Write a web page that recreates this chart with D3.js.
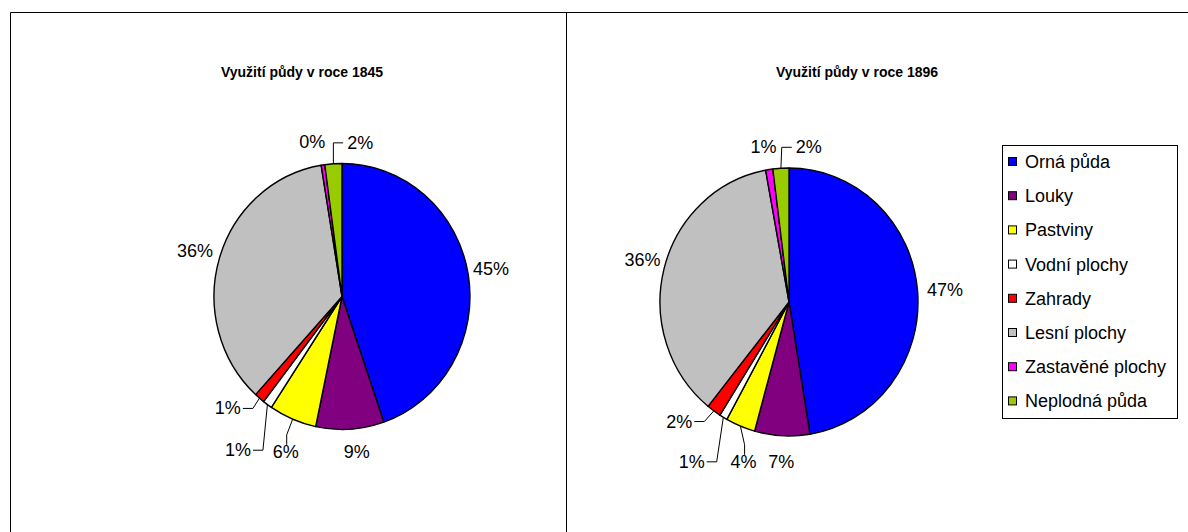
<!DOCTYPE html>
<html>
<head>
<meta charset="utf-8">
<script src="https://cdn.jsdelivr.net/npm/d3@7"></script>
<style>
  html, body { margin: 0; padding: 0; background: #fff; }
  svg { display: block; font-family: "Liberation Sans", Arial, sans-serif; }
</style>
</head>
<body>
<svg id="chart" width="1188" height="532"></svg>
<script>
// ---- data ----
const categories = ["Orná půda", "Louky", "Pastviny", "Vodní plochy", "Zahrady", "Lesní plochy", "Zastavěné plochy", "Neplodná půda"];
const values1845 = [44.7, 8.6, 6.0, 1.2, 1.3, 35.6, 0.45, 2.15];
const values1896 = [47.4, 6.9, 3.7, 1.0, 1.8, 36.3, 0.9, 2.0];
const titles = ["Využití půdy v roce 1845", "Využití půdy v roce 1896"];
const colors = ["#0000FF", "#800080", "#FFFF00", "#FFFFFF", "#FF0000", "#C0C0C0", "#FF00FF", "#99CC00"];

// ---- layout (label nudges in px, leader style per slice) ----
const layout = [
  { values: values1845, title: titles[0], cx: 342, cy: 296.5, rx: 128, ry: 133, titleX: 302, titleY: 72,
    nudges: [[5, -2], [5.5, 4.5], [0, 16], [-19, 31], [-20, -3.5], [-7, -2], [-8, -5], [28, -3]],
    leaders: [null, null, "v", "h", "h", null, null, "h"] },
  { values: values1896, title: titles[1], cx: 789, cy: 302, rx: 129, ry: 134, titleX: 857, titleY: 72,
    nudges: [[9.5, 0], [0, 8], [10, 19], [-22.5, 29], [-24, -4], [-4, -4.5], [-3, -5], [29, -3]],
    leaders: [null, null, "v", "h", "h", null, null, "h"] }
];

const svg = d3.select("#chart");

// panel frames
svg.append("path")
  .attr("d", "M10.5,532 L10.5,12.5 L1188,12.5 M566.5,12.5 L566.5,532")
  .attr("fill", "none").attr("stroke", "#000").attr("stroke-width", 1);

const pie = d3.pie().sort(null).value(d => d);

layout.forEach(cfg => {
  const total = d3.sum(cfg.values);
  const arcs = pie(cfg.values);
  const arc = d3.arc().innerRadius(0).outerRadius(cfg.rx);

  svg.append("text")
    .attr("x", cfg.titleX).attr("y", cfg.titleY)
    .attr("text-anchor", "middle").attr("dominant-baseline", "central")
    .attr("font-size", 14).attr("font-weight", "bold")
    .text(cfg.title);

  const g = svg.append("g")
    .attr("transform", `translate(${cfg.cx},${cfg.cy}) scale(1,${cfg.ry / cfg.rx})`);
  g.selectAll("path").data(arcs).join("path")
    .attr("d", arc)
    .attr("fill", (d, i) => colors[i])
    .attr("stroke", "#000").attr("stroke-width", 1.4)
    .attr("vector-effect", "non-scaling-stroke")
    .attr("stroke-linejoin", "round");

  const lg = svg.append("g");
  arcs.forEach((d, i) => {
    const mid = (d.startAngle + d.endAngle) / 2;
    const sx = Math.sin(mid), sy = -Math.cos(mid);
    const lx = cfg.cx + (cfg.rx + 18) * sx + cfg.nudges[i][0];
    const ly = cfg.cy + (cfg.ry + 18) * sy + cfg.nudges[i][1];
    const t = lg.append("text")
      .attr("x", lx).attr("y", ly)
      .attr("text-anchor", "middle").attr("dominant-baseline", "central")
      .attr("font-size", 18).attr("fill", "#000")
      .text(Math.round(d.value / total * 100) + "%");
    const mode = cfg.leaders[i];
    if (mode) {
      const bb = t.node().getBBox();
      const ax = cfg.cx + cfg.rx * sx, ay = cfg.cy + cfg.ry * sy;
      let pts;
      if (mode === "h") {
        const left = lx < ax;
        const x0 = left ? bb.x + bb.width + 2 : bb.x - 4;
        const x1 = left ? x0 + Math.min(10, ax - x0) : x0 - Math.min(10, x0 - ax);
        pts = [[x0, ly], [x1, ly], [ax, ay]];
      } else {
        const y0 = bb.y + 3;
        pts = [[lx + 1, y0], [lx + 1, y0 - 10], [ax, ay]];
      }
      lg.append("path")
        .attr("d", d3.line()(pts))
        .attr("fill", "none").attr("stroke", "#000").attr("stroke-width", 1);
    }
  });
});

// legend
const legend = svg.append("g");
legend.append("rect")
  .attr("x", 1002.5).attr("y", 145.5).attr("width", 175).attr("height", 273)
  .attr("fill", "#fff").attr("stroke", "#000").attr("stroke-width", 1);
const ly0 = 162, lstep = 34.2;
categories.forEach((c, i) => {
  const y = ly0 + i * lstep;
  legend.append("rect")
    .attr("x", 1008.5).attr("y", y - 4.5).attr("width", 8).attr("height", 8)
    .attr("fill", colors[i]).attr("stroke", "#000").attr("stroke-width", 1);
  legend.append("text")
    .attr("x", 1025).attr("y", y)
    .attr("dominant-baseline", "central")
    .attr("font-size", 18).attr("fill", "#000")
    .text(c);
});
</script>
</body>
</html>
